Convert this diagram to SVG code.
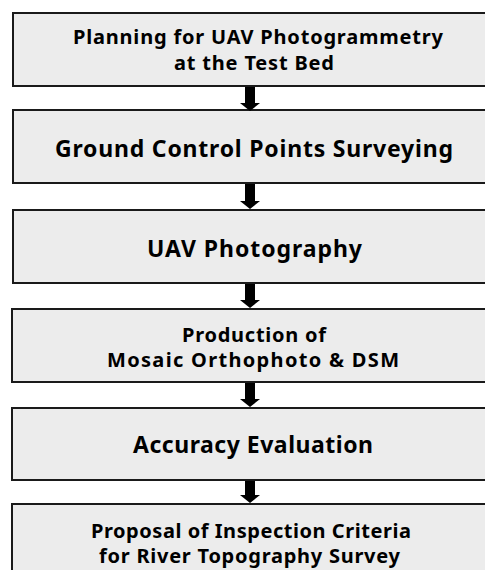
<svg xmlns="http://www.w3.org/2000/svg" width="485" height="570" viewBox="0 0 485 570">
<style>
.box{fill:#ececec;stroke:#1a1a1a;stroke-width:2}
.t{font-family:"Noto Sans","Open Sans","DejaVu Sans",sans-serif;font-weight:bold;fill:#000;text-anchor:middle}
.s{font-size:20px}
.l{font-size:23px}
.arr{fill:#000}
</style>
<rect x="0" y="0" width="485" height="570" fill="#fff"/>
<g id="n1"><rect class="box" x="13" y="13" width="490" height="73"/>
<text class="t s" x="258" y="44" textLength="370" lengthAdjust="spacing">Planning for UAV Photogrammetry</text>
<text class="t s" x="254" y="70" textLength="160" lengthAdjust="spacing">at the Test Bed</text></g>
<g id="n2"><rect class="box" x="13" y="110" width="490" height="73"/>
<text class="t l" x="254" y="157" textLength="398" lengthAdjust="spacing">Ground Control Points Surveying</text></g>
<g id="n3"><rect class="box" x="13" y="210" width="490" height="73"/>
<text class="t l" x="254.5" y="257" textLength="215" lengthAdjust="spacing">UAV Photography</text></g>
<g id="n4"><rect class="box" x="12" y="309" width="490" height="73"/>
<text class="t s" x="254" y="342" textLength="144" lengthAdjust="spacing">Production of</text>
<text class="t s" x="253" y="367" textLength="292" lengthAdjust="spacing">Mosaic Orthophoto &amp; DSM</text></g>
<g id="n5"><rect class="box" x="12" y="408" width="490" height="72"/>
<text class="t l" x="253" y="453" textLength="240" lengthAdjust="spacing">Accuracy Evaluation</text></g>
<g id="n6"><rect class="box" x="12" y="504" width="490" height="80"/>
<text class="t s" x="251" y="538" textLength="320" lengthAdjust="spacing">Proposal of Inspection Criteria</text>
<text class="t s" x="249.5" y="563" textLength="301" lengthAdjust="spacing">for River Topography Survey</text></g>
<g id="connectors">
<path class="arr" d="M245 87 H255 V103 H260 L250 111 L240 103 H245 Z"/>
<path class="arr" d="M245 184 H255 V201 H260 L250 209 L240 201 H245 Z"/>
<path class="arr" d="M245 284 H255 V300 H260 L250 308 L240 300 H245 Z"/>
<path class="arr" d="M245 383 H255 V399 H260 L250 407 L240 399 H245 Z"/>
<path class="arr" d="M245 481 H255 V495 H260 L250 503 L240 495 H245 Z"/>
</g>
</svg>
